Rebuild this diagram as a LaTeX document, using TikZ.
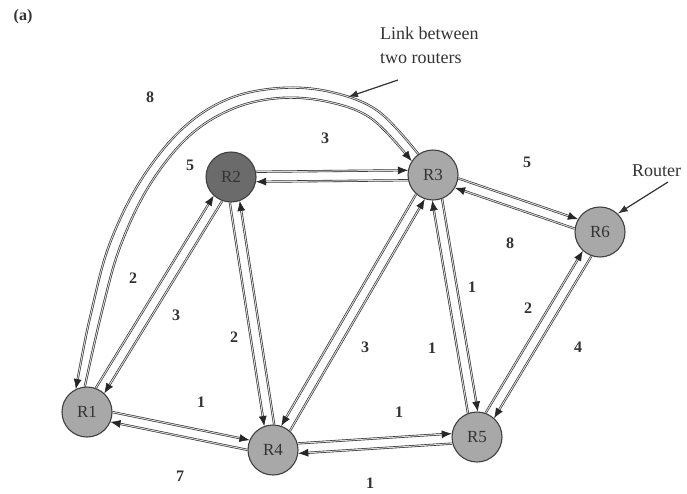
\documentclass[tikz,border=0pt]{standalone}
\usepackage{fontspec}
\setmainfont{Liberation Serif}
\usetikzlibrary{calc,arrows.meta}
\definecolor{inkc}{gray}{0.2}
\definecolor{nodefill}{gray}{0.66}
\definecolor{darkfill}{gray}{0.42}
\newcommand\rlink[4]{%
  \draw[linkarrow] ($(#1)!5pt!#3:(#2)$) -- ($(#2)!5pt!#4:(#1)$);
  \draw[linkarrow] ($(#2)!5pt!#3:(#1)$) -- ($(#1)!5pt!#4:(#2)$);}
\begin{document}
\begin{tikzpicture}[x=1pt,y=-1pt,
  router/.style={circle, minimum size=50pt, inner sep=0pt, draw=black!75, line width=1.1pt,
    fill=nodefill, text=inkc, font=\fontsize{17}{17}\selectfont},
  wt/.style={font=\fontsize{16}{16}\selectfont\bfseries, text=inkc, inner sep=0pt},
  linkline/.style={draw=black!85, line width=0.6pt, double=gray!30, double distance=1pt},
  linkarrow/.style={linkline, -{Latex[length=10pt,width=8pt]}, shorten >=25pt, shorten <=25pt},
  annot/.style={draw=inkc, line width=1.2pt, -{Latex[length=10pt,width=7pt]}},
  note/.style={font=\fontsize{18}{24}\selectfont, text=inkc, inner sep=0pt}]
\useasboundingbox[fill=white] (0,0) rectangle (687,493);

% routers
\node[router] (R1) at (87,412) {R1};
\node[router, fill=darkfill] (R2) at (231,177) {R2};
\node[router] (R3) at (433,175) {R3};
\node[router] (R4) at (273,450) {R4};
\node[router] (R5) at (477,437) {R5};
\node[router] (R6) at (600,232) {R6};

% links (pairs of one-way arrows)
\rlink{R1}{R2}{90}{-90}
\rlink{R1}{R4}{90}{-90}
\rlink{R2}{R3}{90}{-90}
\rlink{R4}{R5}{90}{-90}
\rlink{R3}{R5}{90}{-90}
\rlink{R5}{R6}{90}{-90}
\rlink{R3}{R6}{90}{-90}
\rlink{R2}{R4}{-90}{90}
\rlink{R3}{R4}{-90}{90}

% long curved link R1 -- R3
\draw[linkline, {Latex[length=10pt,width=8pt]}-] plot[smooth, tension=0.6] coordinates
  {(R1.116) (92,309) (110,243) (141,180) (182,129) (228,99) (280,88) (331,92) (378,111) (R3.125)};
\draw[linkline, -{Latex[length=10pt,width=8pt]}] plot[smooth, tension=0.6] coordinates
  {(R1.95) (102,311) (120,247) (149,186) (188,137) (232,109) (280,98) (329,102) (372,119) (R3.147)};

% weights
\node[wt] (w1) at (150,97) {8};
\node[wt] (w2) at (325,138) {3};
\node[wt] (w3) at (190,165) {5};
\node[wt] (w4) at (527,162) {5};
\node[wt] (w5) at (510,243) {8};
\node[wt] (w6) at (133,278) {2};
\node[wt] (w7) at (176,315) {3};
\node[wt] (w8) at (234,337) {2};
\node[wt] (w9) at (201,402) {1};
\node[wt] (w10) at (180,476) {7};
\node[wt] (w11) at (472,287) {1};
\node[wt] (w12) at (528,308) {2};
\node[wt] (w13) at (365,347) {3};
\node[wt] (w14) at (432,348) {1};
\node[wt] (w15) at (578,347) {4};
\node[wt] (w16) at (399,412) {1};
\node[wt] (w17) at (370,483) {1};

% annotations
\node[font=\fontsize{16}{16}\selectfont\bfseries, text=inkc, inner sep=0pt] (lab) at (23,17) {(a)};
\node[note, anchor=north west, align=left] (linklbl) at (380,27) {Link between\\two routers};
\node[note, anchor=base west] (routerlbl) at (632,176) {Router};
\coordinate (linkfrom) at (398,80);
\coordinate (linkto) at (348,97);
\draw[annot] (linkfrom) -- (linkto);
\coordinate (routerfrom) at (668,182);
\draw[annot] (routerfrom) -- (R6.46);
\end{tikzpicture}
\end{document}
